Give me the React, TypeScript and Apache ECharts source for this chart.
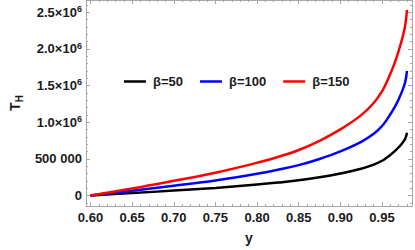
import React, { useEffect, useRef } from "react";
import * as echarts from "echarts";

const yValues = [0.6, 0.65, 0.7, 0.75, 0.8, 0.825, 0.85, 0.875, 0.9, 0.925, 0.94, 0.95, 0.955, 0.96, 0.965, 0.97, 0.975, 0.978, 0.98];
const beta50 = [0, 32000, 66000, 103000, 148000, 175000, 207000, 248000, 300000, 365000, 420000, 473000, 510000, 553000, 600000, 657000, 723000, 777000, 855000];
const beta100 = [0, 63000, 132000, 205000, 295000, 350000, 413000, 497000, 600000, 730000, 840000, 947000, 1020000, 1107000, 1200000, 1313000, 1447000, 1555000, 1700000];
const beta150 = [0, 95000, 200000, 310000, 445000, 525000, 620000, 745000, 900000, 1095000, 1260000, 1420000, 1530000, 1660000, 1800000, 1970000, 2170000, 2330000, 2530000];
const seriesNames = ["β=50", "β=100", "β=150"];
const seriesColors = ["#000000", "#0000ff", "#ff0000"];

const xMajorTicks = [0.6, 0.65, 0.7, 0.75, 0.8, 0.85, 0.9, 0.95];
const yMajorTicks = [0, 500000, 1000000, 1500000, 2000000, 2500000];
const xMinorTicks: number[] = [];
for (let i = 60; i <= 98; i++) if (i % 5 !== 0) xMinorTicks.push(i / 100);
const yMinorTicks: number[] = [];
for (let i = -1; i <= 26; i++) if (i % 5 !== 0) yMinorTicks.push(i * 100000);

const X_MIN = 0.5945;
const X_MAX = 0.986;
const Y_MIN = -144000;
const Y_MAX = 2665000;

const frameColor = "#a6a6a6";
const fontFamily = "Liberation Sans, Arial, sans-serif";

function yLabel(v: number): string {
  if (Math.abs(v) < 1) return "0";
  if (Math.abs(v - 500000) < 1) return "500 000";
  return `{a|${(v / 1e6).toFixed(1)}×10}{b|6}`;
}

export default function App() {
  const ref = useRef<HTMLDivElement>(null);
  useEffect(() => {
    if (!ref.current) return;
    const chart = echarts.init(ref.current, null, { renderer: "svg" });
    const data = [beta50, beta100, beta150];
    const mkX = (pos: "bottom" | "top", ticks: number[], len: number, labels: boolean, line: boolean, name?: string) => ({
      type: "value",
      position: pos,
      min: X_MIN,
      max: X_MAX,
      name: name,
      nameLocation: "middle",
      nameGap: 25,
      nameTextStyle: { fontFamily, fontWeight: "bold", fontSize: 14, color: "#1a1a1a" },
      axisLine: { show: line, onZero: false, lineStyle: { color: frameColor, width: 1 } },
      axisTick: { show: true, inside: true, length: len, customValues: ticks, lineStyle: { color: frameColor } },
      axisLabel: {
        show: labels,
        customValues: xMajorTicks,
        margin: 5,
        fontFamily,
        fontWeight: "bold",
        fontSize: 13,
        color: "#1a1a1a",
        formatter: (v: number) => v.toFixed(2),
      },
      splitLine: { show: false },
    });
    const mkY = (pos: "left" | "right", ticks: number[], len: number, labels: boolean, line: boolean, name?: string) => ({
      type: "value",
      position: pos,
      min: Y_MIN,
      max: Y_MAX,
      name: name,
      nameLocation: "middle",
      nameGap: 57,
      nameRotate: 90,
      nameTextStyle: {
        fontFamily,
        fontWeight: "bold",
        color: "#1a1a1a",
        rich: {
          t: { fontFamily, fontWeight: "bold", fontSize: 14, color: "#1a1a1a" },
          s: { fontFamily, fontWeight: "bold", fontSize: 10, color: "#1a1a1a", verticalAlign: "bottom", padding: [8, 0, 0, 0] },
        },
      },
      axisLine: { show: line, onZero: false, lineStyle: { color: frameColor, width: 1 } },
      axisTick: { show: true, inside: true, length: len, customValues: ticks, lineStyle: { color: frameColor } },
      axisLabel: {
        show: labels,
        customValues: yMajorTicks,
        margin: 4,
        fontFamily,
        fontWeight: "bold",
        fontSize: 13,
        color: "#1a1a1a",
        formatter: yLabel,
        rich: {
          a: { fontFamily, fontWeight: "bold", fontSize: 13, color: "#1a1a1a" },
          b: { fontFamily, fontWeight: "bold", fontSize: 9, color: "#1a1a1a", verticalAlign: "bottom", padding: [0, 0, 6, 0] },
        },
      },
      splitLine: { show: false },
    });
    chart.setOption({
      animation: false,
      backgroundColor: "#ffffff",
      grid: { left: 75, right: 3, top: 0, bottom: 41, containLabel: false },
      legend: {
        left: 119,
        top: 70,
        icon: "rect",
        itemWidth: 22,
        itemHeight: 2.5,
        itemGap: 17,
        textStyle: { fontFamily, fontWeight: "bold", fontSize: 13, color: "#1a1a1a", padding: [0, 0, 0, 2] },
        data: seriesNames,
      },
      xAxis: [
        mkX("bottom", xMajorTicks, 4, true, true, "y"),
        mkX("bottom", xMinorTicks, 2, false, false),
        mkX("top", xMajorTicks, 4, false, true),
        mkX("top", xMinorTicks, 2, false, false),
      ],
      yAxis: [
        mkY("left", yMajorTicks, 4, true, true, "{t|T}{s|H}"),
        mkY("left", yMinorTicks, 2, false, false),
        mkY("right", yMajorTicks, 4, false, true),
        mkY("right", yMinorTicks, 2, false, false),
      ],
      series: seriesNames.map((name, i) => ({
        name,
        type: "line",
        xAxisIndex: 0,
        yAxisIndex: 0,
        smooth: 0.4,
        symbol: "none",
        lineStyle: { color: seriesColors[i], width: 2.5 },
        itemStyle: { color: seriesColors[i] },
        data: yValues.map((x, j) => [x, data[i][j]]),
      })),
    });
    return () => chart.dispose();
  }, []);
  return <div ref={ref} style={{ position: "fixed", left: 0, top: 0, width: 415, height: 250 }} />;
}
